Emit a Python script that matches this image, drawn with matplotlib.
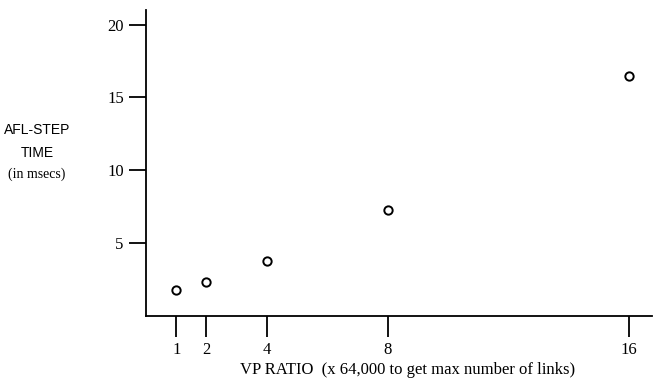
import matplotlib
matplotlib.use("Agg")
import matplotlib.pyplot as plt

vp_ratio = [1, 2, 4, 8, 16]
step_time = [1.8, 2.3, 3.75, 7.25, 16.5]
x_ticks = [1, 2, 4, 8, 16]
y_ticks = [5, 10, 15, 20]

W, H = 654, 384
fig = plt.figure(figsize=(W / 100, H / 100), dpi=100)
ax = fig.add_axes([146 / W, 1 - 316 / H, (652 - 146) / W, (316 - 10) / H])

ax.plot(vp_ratio, step_time, linestyle="none", marker="o", ms=6,
        mfc="white", mec="black", mew=1.4)

ax.set_xlim(0, 16.75)
ax.set_ylim(0, 21)
ax.set_xticks(x_ticks)
ax.set_yticks(y_ticks)
ax.spines["top"].set_visible(False)
ax.spines["right"].set_visible(False)
for s in ["left", "bottom"]:
    ax.spines[s].set_linewidth(1.3)
ax.tick_params(axis="x", direction="out", length=15, width=1.3, pad=4)
ax.tick_params(axis="y", direction="out", length=12, width=1.3, pad=4)
for lab in ax.get_xticklabels() + ax.get_yticklabels():
    lab.set_family("Liberation Serif")
    lab.set_fontsize(12)

ax.set_xlabel("VP RATIO  (x 64,000 to get max number of links)",
              family="Liberation Serif", fontsize=12)
ax.xaxis.set_label_coords((408 - 146) / (652 - 146), -(362 - 316) / 306)

fig.text(37 / W, 1 - 130 / H, "AFL-STEP", ha="center", va="center",
         family="Liberation Sans", fontsize=10)
fig.text(37 / W, 1 - 153 / H, "TIME", ha="center", va="center",
         family="Liberation Sans", fontsize=10)
fig.text(37 / W, 1 - 174 / H, "(in msecs)", ha="center", va="center",
         family="Liberation Serif", fontsize=10)

fig.savefig("out.png", dpi=100)
